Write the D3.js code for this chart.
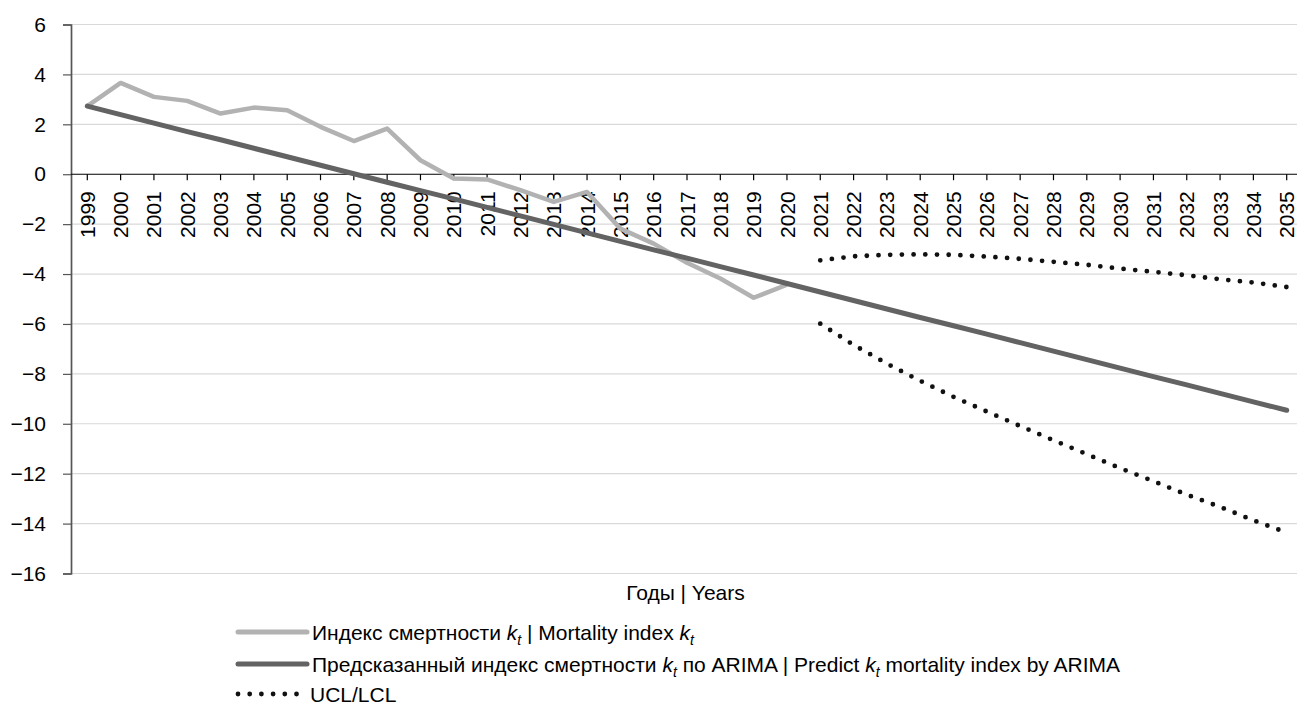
<!DOCTYPE html>
<html>
<head>
<meta charset="utf-8">
<script src="https://cdn.jsdelivr.net/npm/d3@7"></script>
<style>
  body { margin: 0; background: #fff; }
  text { font-family: "Liberation Sans", Arial, sans-serif; fill: #000; }
</style>
</head>
<body>
<svg id="chart" width="1297" height="709"></svg>
<script>
var years = [1999, 2000, 2001, 2002, 2003, 2004, 2005, 2006, 2007, 2008, 2009, 2010,
  2011, 2012, 2013, 2014, 2015, 2016, 2017, 2018, 2019, 2020, 2021, 2022, 2023,
  2024, 2025, 2026, 2027, 2028, 2029, 2030, 2031, 2032, 2033, 2034, 2035];

var histYears = years.slice(0, 22);
var forecastYears = years.slice(22);

// mortality index k_t, 1999-2020
var mortality = [2.73, 3.66, 3.10, 2.94, 2.43, 2.67, 2.56, 1.90, 1.33, 1.83, 0.56,
  -0.17, -0.21, -0.64, -1.11, -0.71, -2.18, -2.78, -3.55, -4.18, -4.95, -4.43];

// predicted by ARIMA, 1999-2035
var predicted = [2.73, 2.39, 2.05, 1.71, 1.38, 1.04, 0.70, 0.36, 0.02, -0.32, -0.66,
  -0.99, -1.33, -1.67, -2.01, -2.35, -2.69, -3.03, -3.36, -3.70, -4.04, -4.38,
  -4.72, -5.06, -5.40, -5.74, -6.07, -6.41, -6.75, -7.09, -7.43, -7.77, -8.11,
  -8.44, -8.78, -9.12, -9.46];

// confidence limits, 2021-2035
var ucl = [-3.45, -3.29, -3.23, -3.21, -3.23, -3.30, -3.39, -3.51, -3.63, -3.78,
  -3.91, -4.05, -4.21, -4.34, -4.52];
var lcl = [-5.99, -6.84, -7.59, -8.28, -8.92, -9.51, -10.09, -10.66, -11.22,
  -11.78, -12.30, -12.84, -13.33, -13.87, -14.36];

var yTicks = [6, 4, 2, 0, -2, -4, -6, -8, -10, -12, -14, -16];

var svg = d3.select("#chart");
var width = +svg.attr("width");

var left = 71, right = width;
var fontSize = "21px";

var x = d3.scalePoint()
    .domain(years)
    .range([87.3, 1286.7]);

var y = d3.scaleLinear()
    .domain([-16, 6])
    .range([573.5, 24.5]);

// gridlines
svg.append("g")
  .selectAll("line")
  .data(yTicks.filter(function(d) { return d !== 0; }))
  .enter().append("line")
    .attr("x1", left)
    .attr("x2", right)
    .attr("y1", function(d) { return y(d); })
    .attr("y2", function(d) { return y(d); })
    .attr("stroke", "#d9d9d9")
    .attr("stroke-width", 1.2);

// y axis
var yAxis = svg.append("g")
    .attr("transform", "translate(" + left + ",0)")
    .call(d3.axisLeft(y).tickValues(yTicks).tickSize(8).tickPadding(17)
      .tickFormat(function(d) { return d < 0 ? "\u2212" + Math.abs(d) : d; }));
yAxis.select(".domain").attr("stroke", "#555").attr("stroke-width", 1.7);
yAxis.selectAll(".tick line").attr("stroke", "#555").attr("stroke-width", 1.2);
yAxis.selectAll("text").style("font-size", fontSize);

// x axis on zero line
var xAxis = svg.append("g")
    .attr("transform", "translate(0," + y(0) + ")");
xAxis.append("line")
    .attr("x1", left)
    .attr("x2", right)
    .attr("stroke", "#000")
    .attr("stroke-width", 1.2);
xAxis.selectAll(".xtick")
  .data(years)
  .enter().append("line")
    .attr("class", "xtick")
    .attr("x1", function(d) { return x(d); })
    .attr("x2", function(d) { return x(d); })
    .attr("y1", 0)
    .attr("y2", 6)
    .attr("stroke", "#000")
    .attr("stroke-width", 1.2);
xAxis.selectAll(".xlabel")
  .data(years)
  .enter().append("text")
    .attr("class", "xlabel")
    .attr("transform", function(d) { return "translate(" + x(d) + ",17) rotate(-90)"; })
    .attr("text-anchor", "end")
    .attr("dy", "0.36em")
    .style("font-size", fontSize)
    .text(function(d) { return d; });

var line = d3.line()
    .x(function(d) { return x(d[0]); })
    .y(function(d) { return y(d[1]); });

function pairs(xs, vs) {
  return xs.map(function(d, i) { return [d, vs[i]]; });
}

svg.append("path")
    .datum(pairs(histYears, mortality))
    .attr("d", line)
    .attr("fill", "none")
    .attr("stroke", "#b2b2b2")
    .attr("stroke-width", 4.5)
    .attr("stroke-linejoin", "round");

svg.append("path")
    .datum(pairs(years, predicted))
    .attr("d", line)
    .attr("fill", "none")
    .attr("stroke", "#636363")
    .attr("stroke-width", 5)
    .attr("stroke-linecap", "round");

[ucl, lcl].forEach(function(s) {
  svg.append("path")
      .datum(pairs(forecastYears, s))
      .attr("d", line)
      .attr("fill", "none")
      .attr("stroke", "#111")
      .attr("stroke-width", 4.8)
      .attr("stroke-linecap", "round")
      .attr("stroke-dasharray", "0,11.7");
});

// axis title
svg.append("text")
    .attr("x", (left + 1300) / 2)
    .attr("y", 600)
    .attr("text-anchor", "middle")
    .style("font-size", fontSize)
    .text("Годы | Years");

// legend
var legendItems = [
  { color: "#b2b2b2", dash: null, width: 5,
    parts: [["Индекс смертности ", ""], ["k", "i"], ["t", "s"], [" | Mortality index ", ""], ["k", "i"], ["t", "s"]] },
  { color: "#636363", dash: null, width: 5,
    parts: [["Предсказанный индекс смертности ", ""], ["k", "i"], ["t", "s"], [" по ARIMA | Predict ", ""], ["k", "i"], ["t", "s"], [" mortality index by ARIMA", ""]] },
  { color: "#111", dash: "0,11.7", width: 4.8,
    parts: [["UCL/LCL", ""]] }
];
var legendY = [632, 664, 694];

var legend = svg.append("g")
  .selectAll("g")
  .data(legendItems)
  .enter().append("g")
    .attr("transform", function(d, i) { return "translate(236," + legendY[i] + ")"; });

legend.append("line")
    .attr("x1", 2)
    .attr("x2", function(d) { return d.dash ? 64 : 71; })
    .attr("stroke", function(d) { return d.color; })
    .attr("stroke-width", function(d) { return d.width; })
    .attr("stroke-linecap", "round")
    .attr("stroke-dasharray", function(d) { return d.dash; });

var ltext = legend.append("text")
    .attr("x", function(d) { return d.dash ? 74 : 76; })
    .attr("dy", "0.36em")
    .style("font-size", fontSize);

ltext.selectAll("tspan")
  .data(function(d) { return d.parts; })
  .enter().append("tspan")
    .style("font-style", function(p) { return p[1] ? "italic" : null; })
    .style("font-size", function(p) { return p[1] === "s" ? "14px" : null; })
    .attr("dy", function(p, i, nodes) {
      var prev = i > 0 ? d3.select(nodes[i - 1]).datum()[1] : "";
      if (p[1] === "s") return 5;
      if (prev === "s") return -5;
      return null;
    })
    .text(function(p) { return p[0]; });
</script>
</body>
</html>
